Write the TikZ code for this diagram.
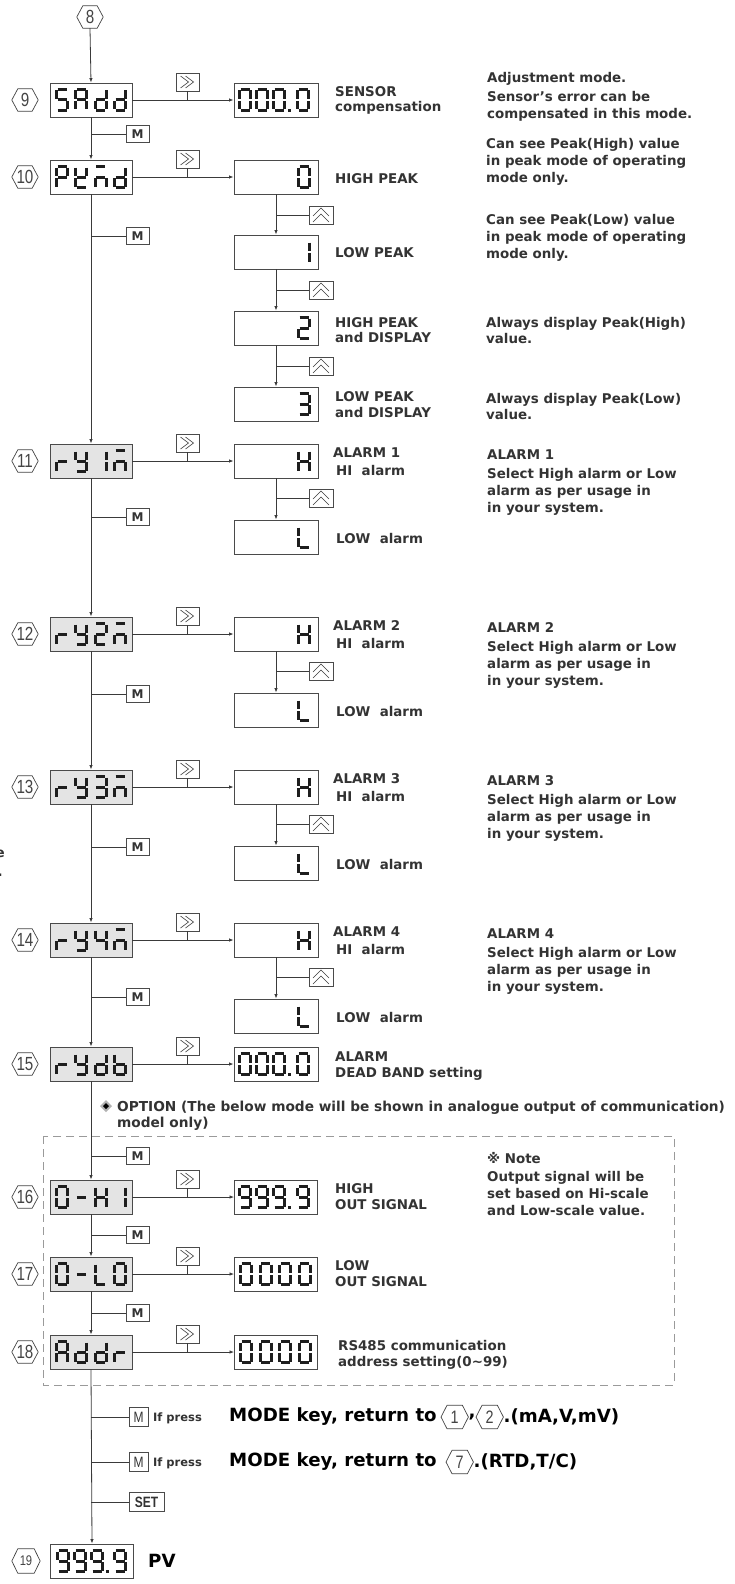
\documentclass[tikz,border=0pt]{standalone}
\usepackage{fontspec}
\setmainfont{DejaVu Sans}
\newfontfamily\narrowfont[FakeStretch=0.8]{Liberation Sans}
\usetikzlibrary{arrows.meta}
\definecolor{txt}{HTML}{333333}
\definecolor{ln}{HTML}{3A3A3A}
\definecolor{bx}{HTML}{4A4A4A}
\definecolor{boxgray}{HTML}{E4E4E4}
\definecolor{segc}{HTML}{1E1E1E}
\definecolor{dashc}{HTML}{9A9A9A}
\definecolor{hexc}{HTML}{444444}
% seven segment pieces (cell 14 x 24, origin top-left, y down)
\newcommand\segXa{\draw[sg] (2.5,1.5)--(11.5,1.5);}
\newcommand\segXb{\draw[sg] (12.5,2.5)--(12.5,11);}
\newcommand\segXc{\draw[sg] (12.5,13)--(12.5,21.5);}
\newcommand\segXd{\draw[sg] (2.5,22.5)--(11.5,22.5);}
\newcommand\segXe{\draw[sg] (1.5,13)--(1.5,21.5);}
\newcommand\segXf{\draw[sg] (1.5,2.5)--(1.5,11);}
\newcommand\segXg{\draw[sg] (2.5,12)--(11.5,12);}
\newcommand\sdig[3]{\begin{scope}[shift={(#1,#2)}]\foreach \sgm in #3 {\csname segX\sgm\endcsname}\end{scope}}
\newcommand\sdot[2]{\fill[segc] (#1,#2) rectangle ++(3,3);}
\def\Dzero{a,b,c,d,e,f}
\def\Dnine{a,b,c,d,f,g}
\def\Dfive{a,f,g,c,d}
\def\DA{a,b,c,e,f,g}
\def\Dd{b,c,d,e,g}
\def\DP{a,b,e,f,g}
\def\DK{f,b,g,e,d}
\def\Dmbar{a,c,e,g}
\def\Dr{e,g}
\def\DY{f,b,g,c,d}
\def\Done{b,c}
\def\Dtwo{a,b,g,e,d}
\def\Dthree{a,b,g,c,d}
\def\Dfour{f,g,b,c}
\def\Db{f,e,d,c,g}
\def\Ddash{g}
\def\DH{f,b,g,e,c}
\def\DL{f,e,d}
\newcommand\ldisp[5]{\sdig{55}{#1-12}{#2}\sdig{74.3}{#1-12}{#3}\sdig{93.6}{#1-12}{#4}\sdig{113}{#1-12}{#5}}
\newcommand\hexn[5][]{\node[hexnum,#1] (#2) at (#3,#4) {#5};
 \draw[hexline] (#2.west) -- ([xshift=6pt]#2.north west) -- ([xshift=-6pt]#2.north east) -- (#2.east) -- ([xshift=-6pt]#2.south east) -- ([xshift=6pt]#2.south west) -- cycle;}
\newcommand\ffkey[3]{\node[keybox] (#1) at (#2,#3) {};
 \draw[chev] ([xshift=-7pt,yshift=6pt]#1.center) -- ([xshift=1pt]#1.center) -- ([xshift=-7pt,yshift=-6pt]#1.center)
 ([xshift=-2pt,yshift=6pt]#1.center) -- ([xshift=6pt]#1.center) -- ([xshift=-2pt,yshift=-6pt]#1.center);}
\newcommand\upkey[3]{\node[keybox,minimum width=24pt] (#1) at (#2,#3) {};
 \draw[chev] ([xshift=-8pt,yshift=-1pt]#1.center) -- ([yshift=7pt]#1.center) -- ([xshift=8pt,yshift=-1pt]#1.center)
 ([xshift=-8pt,yshift=-7pt]#1.center) -- ([yshift=1pt]#1.center) -- ([xshift=8pt,yshift=-7pt]#1.center);}
\newcommand\alarmrow[4]{%
 \hexn{h#1}{25}{#2}{#1}
 \node[graybox] (r#1) at (91,#2) {};
 \ldisp{#2}{\Dr}{\DY}{#3}{\Dmbar}
 \ffkey{k#1}{187.5}{#2-18}
 \node[subbox] (sh#1) at (276,#2) {};
 \sdig{297}{#2-12}{\DH}
 \upkey{u#1}{321}{#2+37}
 \node[subbox] (sl#1) at (276,#2+76) {};
 \sdig{297}{#2+64}{\DL}
 \draw[arr] (r#1.east) -- (sh#1.west);
 \draw[conn] (k#1.south) -- (k#1.south |- r#1.east);
 \draw[arr] (sh#1.south) -- (sl#1.north);
 \draw[conn] (u#1.west) -- (u#1.west -| sh#1.south);
 \node[txtnode] (sa#1) at (333,#2-4) {ALARM #4};
 \node[txtnode] (sb#1) at (336,#2+14) {HI\ \ alarm};
 \node[txtnode] (sc#1) at (336,#2+82) {LOW\ \ alarm};
 \node[txtnode] (da#1) at (487,#2-2) {ALARM #4};
 \node[txtnode] (db#1) at (487,#2+17) {Select High alarm or Low};
 \node[txtnode] (dc#1) at (487,#2+34) {alarm as per usage in};
 \node[txtnode] (dd#1) at (487,#2+51) {in your system.};
}
\begin{document}
\begin{tikzpicture}[x=1pt,y=-1pt,
  mainbox/.style={draw=bx,line width=0.9pt,minimum width=82pt,minimum height=34pt,inner sep=0pt,fill=white},
  graybox/.style={mainbox,fill=boxgray},
  subbox/.style={draw=bx,line width=0.9pt,minimum width=84pt,minimum height=34pt,inner sep=0pt,fill=white},
  keybox/.style={draw=bx,line width=0.8pt,minimum width=23pt,minimum height=18pt,inner sep=0pt,fill=white},
  mkey/.style={keybox,minimum height=17pt,font=\fontsize{12}{12}\selectfont\bfseries,text=txt},
  chev/.style={draw=ln,line width=0.6pt},
  conn/.style={draw=ln,line width=0.8pt},
  arr/.style={conn,-{Latex[length=4.5pt,width=3.5pt]}},
  hexnum/.style={inner sep=0pt,minimum width=26pt,minimum height=22pt,font=\narrowfont\fontsize{19}{19}\selectfont,text=hexc},
  hexline/.style={draw=hexc,line width=0.7pt},
  sg/.style={draw=segc,line width=3pt},
  txtnode/.style={anchor=base west,inner sep=0pt,text=txt,font=\fontsize{13.4}{16}\selectfont\bfseries},
  bigtxt/.style={anchor=west,inner sep=0pt,text=black,font=\fontsize{18.2}{20}\selectfont\bfseries},
]
\useasboundingbox (0,0) rectangle (735,1584);
\fill[white] (0,0) rectangle (735,1584);

% ---------- row 9 ----------
\hexn{h8}{90}{17}{8}
\hexn{h9}{25}{100}{9}
\node[mainbox] (r9) at (91,100) {};
\ldisp{100}{\Dfive}{\DA}{\Dd}{\Dd}
\ffkey{k9}{187.5}{82}
\node[subbox] (s9) at (276,100) {};
\sdig{238}{88}{\Dzero}\sdig{255}{88}{\Dzero}\sdig{272}{88}{\Dzero}\sdot{288}{109}\sdig{296}{88}{\Dzero}
\draw[arr] (h8.south) -- (r9.north);
\draw[arr] (r9.east) -- (s9.west);
\draw[conn] (k9.south) -- (k9.south |- r9.east);
\node[txtnode] (t9a) at (335,97) {SENSOR};
\node[txtnode] (t9b) at (335,112) {compensation};
\node[txtnode] (d9a) at (487,83) {Adjustment mode.};
\node[txtnode] (d9b) at (487,102) {Sensor's error can be};
\node[txtnode] (d9c) at (487,118) {compensated in this mode.};
\node[mkey] (m9) at (137.5,134) {M};
\draw[conn] (m9.west) -- (m9.west -| r9.south);

% ---------- row 10 ----------
\hexn{h10}{25}{177}{10}
\node[mainbox] (r10) at (91,177) {};
\ldisp{177}{\DP}{\DK}{\Dmbar}{\Dd}
\draw[arr] (r9.south) -- (r10.north);
\ffkey{k10}{187.5}{159}
\node[subbox] (p0) at (276,177) {};
\sdig{297}{165}{\Dzero}
\node[subbox] (p1) at (276,252) {};
\sdig{297}{240}{\Done}
\node[subbox] (p2) at (276,328) {};
\sdig{297}{316}{\Dtwo}
\node[subbox] (p3) at (276,404) {};
\sdig{297}{392}{\Dthree}
\upkey{u0}{321}{215}
\upkey{u1}{321}{290}
\upkey{u2}{321}{366}
\draw[arr] (r10.east) -- (p0.west);
\draw[conn] (k10.south) -- (k10.south |- r10.east);
\draw[arr] (p0.south) -- (p1.north);
\draw[arr] (p1.south) -- (p2.north);
\draw[arr] (p2.south) -- (p3.north);
\draw[conn] (u0.west) -- (u0.west -| p0.south);
\draw[conn] (u1.west) -- (u1.west -| p1.south);
\draw[conn] (u2.west) -- (u2.west -| p2.south);
\node[txtnode] (t10a) at (335,183) {HIGH PEAK};
\node[txtnode] (t10b) at (335,257) {LOW PEAK};
\node[txtnode] (t10c) at (335,327) {HIGH PEAK};
\node[txtnode] (t10d) at (335,342) {and DISPLAY};
\node[txtnode] (t10e) at (335,401) {LOW PEAK};
\node[txtnode] (t10f) at (335,417) {and DISPLAY};
\node[txtnode] (d10a) at (486,148) {Can see Peak(High) value};
\node[txtnode] (d10b) at (486,165) {in peak mode of operating};
\node[txtnode] (d10c) at (486,182) {mode only.};
\node[txtnode] (d10d) at (486,224) {Can see Peak(Low) value};
\node[txtnode] (d10e) at (486,241) {in peak mode of operating};
\node[txtnode] (d10f) at (486,258) {mode only.};
\node[txtnode] (d10g) at (486,327) {Always display Peak(High)};
\node[txtnode] (d10h) at (486,343) {value.};
\node[txtnode] (d10i) at (486,403) {Always display Peak(Low)};
\node[txtnode] (d10j) at (486,419) {value.};
\node[mkey] (m10) at (137.5,236) {M};
\draw[conn] (m10.west) -- (m10.west -| r10.south);

% ---------- rows 11-14 ----------
\alarmrow{11}{461}{\Done}{1}
\alarmrow{12}{634}{\Dtwo}{2}
\alarmrow{13}{787}{\Dthree}{3}
\alarmrow{14}{940}{\Dfour}{4}
\draw[arr] (r10.south) -- (r11.north);
\draw[arr] (r11.south) -- (r12.north);
\draw[arr] (r12.south) -- (r13.north);
\draw[arr] (r13.south) -- (r14.north);
\node[mkey] (m11) at (137.5,517) {M};
\draw[conn] (m11.west) -- (m11.west -| r11.south);
\node[mkey] (m12) at (137.5,694) {M};
\draw[conn] (m12.west) -- (m12.west -| r12.south);
\node[mkey] (m13) at (137.5,847) {M};
\draw[conn] (m13.west) -- (m13.west -| r13.south);
\node[mkey] (m14) at (137.5,997) {M};
\draw[conn] (m14.west) -- (m14.west -| r14.south);

% cut-off fragments at left edge
\node[anchor=base east,inner sep=0pt,text=txt,font=\fontsize{13.4}{16}\selectfont\bfseries] (frag1) at (5,857) {e};
\node[anchor=base east,inner sep=0pt,text=txt,font=\fontsize{13.4}{16}\selectfont\bfseries] (frag2) at (3,876) {.};

% ---------- row 15 ----------
\hexn{h15}{25}{1064}{15}
\node[graybox] (r15) at (91,1064) {};
\ldisp{1064}{\Dr}{\DY}{\Dd}{\Db}
\draw[arr] (r14.south) -- (r15.north);
\ffkey{k15}{187.5}{1046}
\node[subbox] (s15) at (276,1064) {};
\sdig{238}{1052}{\Dzero}\sdig{255}{1052}{\Dzero}\sdig{272}{1052}{\Dzero}\sdot{288}{1073}\sdig{296}{1052}{\Dzero}
\draw[arr] (r15.east) -- (s15.west);
\draw[conn] (k15.south) -- (k15.south |- r15.east);
\node[txtnode] (t15a) at (335,1061) {ALARM};
\node[txtnode] (t15b) at (335,1077) {DEAD BAND setting};

% option text
\fill[gray!60] (106,1100) -- (112,1106) -- (106,1112) -- (100,1106) -- cycle;
\fill[black] (106,1103) -- (109,1106) -- (106,1109) -- (103,1106) -- cycle;
\node[txtnode,font=\fontsize{13.7}{16}\selectfont\bfseries] (opt1) at (117,1111) {OPTION (The below mode will be shown in analogue output of communication)};
\node[txtnode,font=\fontsize{13.7}{16}\selectfont\bfseries] (opt2) at (117,1127) {model only)};
\draw[draw=dashc,line width=0.8pt,dash pattern=on 8pt off 5pt] (43,1136) rectangle (674,1385);

% ---------- rows 16-18 ----------
\hexn{h16}{25}{1197}{16}
\node[graybox] (r16) at (91,1197) {};
\ldisp{1197}{\Dzero}{\Ddash}{\DH}{\Done}
\hexn{h17}{25}{1274}{17}
\node[graybox] (r17) at (91,1274) {};
\ldisp{1274}{\Dzero}{\Ddash}{\DL}{\Dzero}
\hexn{h18}{25}{1352}{18}
\node[graybox] (r18) at (91,1352) {};
\ldisp{1352}{\DA}{\Dd}{\Dd}{\Dr}
\draw[arr] (r15.south) -- (r16.north);
\draw[arr] (r16.south) -- (r17.north);
\draw[arr] (r17.south) -- (r18.north);
\node[mkey] (m15) at (137.5,1156) {M};
\draw[conn] (m15.west) -- (m15.west -| r15.south);
\node[mkey] (m16) at (137.5,1235) {M};
\draw[conn] (m16.west) -- (m16.west -| r16.south);
\node[mkey] (m17) at (137.5,1313) {M};
\draw[conn] (m17.west) -- (m17.west -| r17.south);
\ffkey{k16}{187.5}{1179}
\ffkey{k17}{187.5}{1256}
\ffkey{k18}{187.5}{1334}
\node[subbox,minimum width=83pt] (s16) at (276,1197) {};
\sdig{238}{1185}{\Dnine}\sdig{255}{1185}{\Dnine}\sdig{272}{1185}{\Dnine}\sdot{288}{1206}\sdig{296}{1185}{\Dnine}
\node[subbox,minimum width=83pt] (s17) at (276,1274) {};
\sdig{239}{1262}{\Dzero}\sdig{258.5}{1262}{\Dzero}\sdig{278}{1262}{\Dzero}\sdig{297.5}{1262}{\Dzero}
\node[subbox,minimum width=83pt] (s18) at (276,1352) {};
\sdig{239}{1340}{\Dzero}\sdig{258.5}{1340}{\Dzero}\sdig{278}{1340}{\Dzero}\sdig{297.5}{1340}{\Dzero}
\draw[arr] (r16.east) -- (s16.west);
\draw[conn] (k16.south) -- (k16.south |- r16.east);
\draw[arr] (r17.east) -- (s17.west);
\draw[conn] (k17.south) -- (k17.south |- r17.east);
\draw[arr] (r18.east) -- (s18.west);
\draw[conn] (k18.south) -- (k18.south |- r18.east);
\node[txtnode] (t16a) at (335,1193) {HIGH};
\node[txtnode] (t16b) at (335,1209) {OUT SIGNAL};
\node[txtnode] (t17a) at (335,1270) {LOW};
\node[txtnode] (t17b) at (335,1286) {OUT SIGNAL};
\node[txtnode] (t18a) at (338,1350) {RS485 communication};
\node[txtnode] (t18b) at (338,1366) {address setting(0\textasciitilde99)};
\node[txtnode] (n0) at (487,1163) {※ Note};
\node[txtnode] (n1) at (487,1181) {Output signal will be};
\node[txtnode] (n2) at (487,1198) {set based on Hi-scale};
\node[txtnode] (n3) at (487,1215) {and Low-scale value.};

% ---------- bottom ----------
\node[keybox,minimum width=19pt,minimum height=19pt,font=\narrowfont\fontsize{15}{15}\selectfont,text=txt] (mb1) at (138.5,1417) {M};
\node[keybox,minimum width=19pt,minimum height=19pt,font=\narrowfont\fontsize{15}{15}\selectfont,text=txt] (mb2) at (138.5,1462) {M};
\node[keybox,minimum width=35pt,minimum height=19pt,font=\narrowfont\fontsize{15}{15}\selectfont\bfseries,text=txt] (setk) at (146.5,1502) {SET};
\node[anchor=west,inner sep=0pt,text=txt,font=\fontsize{11.5}{12}\selectfont\bfseries] (ip1) at (153,1418) {If press};
\node[anchor=west,inner sep=0pt,text=txt,font=\fontsize{11.5}{12}\selectfont\bfseries] (ip2) at (153,1463) {If press};
\node[bigtxt] (bt1) at (229,1417) {MODE key, return to};
\hexn[anchor=west,minimum width=27pt,minimum height=23pt,font=\narrowfont\fontsize{18}{18}\selectfont]{hb1}{441}{1417}{1}
\node[bigtxt] (bc1) at (hb1.east) {,};
\hexn[anchor=west,minimum width=27pt,minimum height=23pt,font=\narrowfont\fontsize{18}{18}\selectfont]{hb2}{476}{1417}{2}
\node[bigtxt] (bt2) at (hb2.east) {.(mA,V,mV)};
\node[bigtxt] (bt3) at (229,1462) {MODE key, return to};
\hexn[anchor=west,minimum width=27pt,minimum height=23pt,font=\narrowfont\fontsize{18}{18}\selectfont]{hb3}{446}{1462}{7}
\node[bigtxt] (bt4) at (hb3.east) {.(RTD,T/C)};
\hexn[minimum width=28pt,minimum height=24pt,font=\narrowfont\fontsize{14}{14}\selectfont]{h19}{26}{1561}{19}
\node[mainbox,minimum width=83pt] (pv) at (92,1561) {};
\sdig{56}{1549}{\Dnine}\sdig{73}{1549}{\Dnine}\sdig{90}{1549}{\Dnine}\sdot{106}{1570}\sdig{113}{1549}{\Dnine}
\node[bigtxt] (pvt) at (148,1561) {PV};
\draw[arr] (r18.south) -- (pv.north);
\draw[conn] (mb1.west) -- (mb1.west -| r18.south);
\draw[conn] (mb2.west) -- (mb2.west -| r18.south);
\draw[conn] (setk.west) -- (setk.west -| r18.south);
\end{tikzpicture}
\end{document}
